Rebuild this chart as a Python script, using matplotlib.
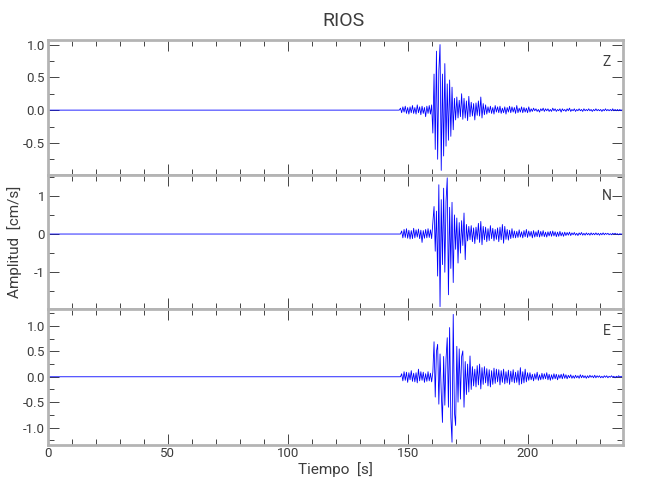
import numpy as np
import matplotlib
matplotlib.use("Agg")
import matplotlib.pyplot as plt
from matplotlib.ticker import MultipleLocator, FormatStrFormatter

# station and components
station = "RIOS"
components = ["Z", "N", "E"]

# trace start (s) and sample interval (s); before t_start the traces are flat
t_start = 146.0
dt = 0.5

# amplitudes in hundredths of cm/s
z_vals = [0, 0,
          3, -4, 5, -3, 6, -5, 4, -6, 5, -4, 7, -5, 4, -6, 8, -4, 5, -7, 6, -5, 4, -10, 6, -5, 7, -6, 8,
          -35, 55, -60, 90, -75, 60, 100, -92, 55, -70, 71, -55, 40, -46, 46, -40, 35, -30,
          18, -15, 20, -12, 15, -10, 25, -14, 18, -12, 14, -16, 21, -10, 12, -9, 10, -15, 11, -8,
          14, -9, 20, -12, 10, -7, 8, -6,
          5, -4, 6, -5, 4, -6, 7, -3, 5, -4, 6, -5, 3, -4, 5, -6, 4, -3, 6, -4, 5, -3, 4, -5, 7, -4,
          3, -3, 5, -4, 4, -3, 3, -4, 5, -3,
          2, -2, 3, -1, 2, -2, 1, -3, 2, -1, 3, -2, 2, -1, 2, -2, 1, -2, 3, -1, 2, -2, 1, -1, 2, -3,
          2, -1, 1, -2, 2, -1, 3, -2, 1, -1, 2, -2, 1, -1, 2, -1, 1, -2, 2, -1, 1, -1, 2, -1, 1, -2,
          1, -1, 2, -1, 1, -1, 1, -2, 1, -1, 2, -1, 1, -1, 1, -1, 2, -1, 1, -1, 1, -1, 1, -1, 1, 0]

n_vals = [0, 0, 0,
          8, -10, 12, -9, 14, -11, 10, -13, 9, -12, 15, -10, 11, -8, 13, -12, 10, -22, 9, -11, 12, -10,
          14, -9, 11, -12,
          30, 72, -45, 60, -110, 129, -190, 90, -80, 120, -100, 85, 147, -159, 70, -90, 83, -127, 50,
          -40, 42, -76, 30, -50, 35, -30, 55, -67, 25,
          -18, 20, -15, 22, -20, 16, -25, 18, -14, 28, -22, 33, -28, 20, -15, 18, -20, 14, -17, 22,
          -12, 15, -18, 12, -14, 16, -20, 18, -15, 25, -24, 20, -14, 12, -16, 10, -12, 14, -10,
          8, -10, 7, -9, 11, -8, 6, -10, 9, -7, 12, -9, 8, -6, 7, -10, 9, -8, 6, -7, 10, -8, 7, -6,
          9, -7, 5, -8, 6, -5, 7, -6, 8, -5, 6, -7, 5, -6, 7, -5, 4, -6, 5, -4,
          4, -3, 5, -4, 3, -2, 4, -3, 2, -4, 3, -2, 4, -3, 2, -3, 3, -2, 2, -3, 3, -2, 2, -2, 3, -2,
          2, -3, 2, -2, 3, -2, 2, -1, 2, -2, 1, -2, 2, -1, 2, -1, 1, -2, 1, -1, 1, 0]

e_vals = [0, 0, 0,
          6, -8, 10, -7, 9, -11, 8, -6, 12, -9, 7, -10, 8, -12, 15, -8, 10, -7, 9, -11, 6, -9, 10,
          -8, 7, -10, 9,
          69, -40, 50, 64, -54, 45, -30, -90, 40, -56, 35, 77, -60, 97, -80, -129, 123, -70, -96, 60,
          -50, 55, -44, 40, 51, -60, 30, -35, 25, -30, 41, -25, 20,
          -18, 15, -20, 22, -16, 25, -24, 18, -15, 20, -12, 16, -18, 14, -20, 12, -15, 17, -13, 15,
          -10, 14, -16, 12, -11, 15, -14, 10, -12, 13, -15, 11, -10, 14, -12, 9, -11, 12, -16, 18,
          -14, 10, -12, 15, -10, 8,
          -7, 8, -6, 5, -8, 6, -5, 9, -7, 4, -6, 7, -5, 6, -4, 8, -6, 5, -7, 4, -5, 6, -4, 5, -6, 4,
          -3, 5, -4, 6, -3, 4, -4,
          3, -2, 4, -3, 2, -3, 3, -2, 2, -3, 4, -2, 3, -2, 2, -3, 2, -2, 3, -1, 2, -2, 3, -2, 2, -1,
          2, -2, 1, -2, 2, -1, 2, -2, 1, -1, 2, -1, 1, -2, 1, -1, 2, -1, 1, -1, 0]

traces = [z_vals, n_vals, e_vals]

# y ranges and tick steps per panel
y_limits = [(-0.99, 1.07), (-1.97, 1.545), (-1.335, 1.33)]
y_major = [0.5, 1.0, 0.5]
y_minor = [0.25, 0.5, 0.25]
y_fmt = ["%.1f", "%.0f", "%.1f"]

txt_col = "#3c3c3c"
frame_col = "#b4b4b4"

plt.rcParams["font.family"] = ["Roboto", "DejaVu Sans"]
plt.rcParams["font.weight"] = "normal"

fig = plt.figure(figsize=(6.5, 5), dpi=100)
left, width = 0.0738, 0.8854
bottoms = [0.65, 0.3814, 0.111]
heights = [0.27, 0.2686, 0.2704]

axes = []
for i in range(3):
    ax = fig.add_axes([left, bottoms[i], width, heights[i]])
    vals = np.array(traces[i]) / 100.0
    t = t_start + dt * np.arange(len(vals))
    t = np.concatenate([[0.0], t])
    vals = np.concatenate([[0.0], vals])
    ax.plot(t, vals, color="#0000ff", lw=0.6)

    ax.set_xlim(0, 240)
    ax.set_ylim(*y_limits[i])
    ax.xaxis.set_major_locator(MultipleLocator(50))
    ax.xaxis.set_minor_locator(MultipleLocator(10))
    ax.yaxis.set_major_locator(MultipleLocator(y_major[i]))
    ax.yaxis.set_minor_locator(MultipleLocator(y_minor[i]))
    ax.yaxis.set_major_formatter(FormatStrFormatter(y_fmt[i]))

    ax.tick_params(which="both", direction="in", top=True, right=True,
                   color="#444444", width=0.7, labelcolor=txt_col, labelsize=9.5, pad=2)
    ax.tick_params(which="major", length=8)
    ax.tick_params(which="minor", length=4.5)
    for sp in ax.spines.values():
        sp.set_color(frame_col)
        sp.set_linewidth(2)
    if i < 2:
        ax.tick_params(labelbottom=False)

    ax.text(0.971, 0.84, components[i], transform=ax.transAxes,
            ha="center", va="center", fontsize=10, color=txt_col)
    axes.append(ax)

fig.text(0.528, 0.958, station, ha="center", va="center", fontsize=14, color=txt_col)
fig.text(0.516, 0.06, "Tiempo  [s]", ha="center", va="center", fontsize=11, color=txt_col)
fig.text(0.022, 0.516, "Amplitud  [cm/s]", ha="center", va="center", rotation=90,
         fontsize=11, color=txt_col)

fig.savefig("out.png", dpi=100)
